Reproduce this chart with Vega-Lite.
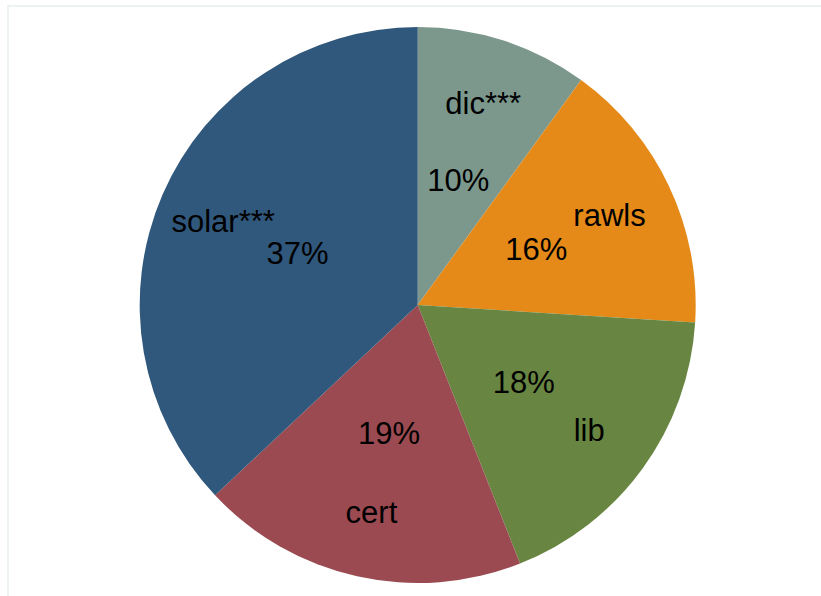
{
  "$schema": "https://vega.github.io/schema/vega-lite/v6.json",
  "autosize": "none",
  "width": 817,
  "height": 594,
  "padding": {"left": 8, "top": 6, "right": -4, "bottom": -4},
  "background": "white",
  "view": {"stroke": "#e8eeee", "strokeWidth": 1.5},
  "data": {
    "values": [
      {"idx": 1, "cat": "dic***", "value": 10, "pct": "10%"},
      {"idx": 2, "cat": "rawls", "value": 16, "pct": "16%"},
      {"idx": 3, "cat": "lib", "value": 18, "pct": "18%"},
      {"idx": 4, "cat": "cert", "value": 19, "pct": "19%"},
      {"idx": 5, "cat": "solar***", "value": 37, "pct": "37%"}
    ]
  },
  "encoding": {
    "theta": {"field": "value", "type": "quantitative", "stack": true},
    "order": {"field": "idx", "type": "quantitative"},
    "color": {
      "field": "cat",
      "type": "nominal",
      "legend": null,
      "scale": {
        "domain": ["dic***", "rawls", "lib", "cert", "solar***"],
        "range": ["#7c988c", "#e58a19", "#688642", "#9a4a50", "#30587c"]
      }
    }
  },
  "layer": [
    {
      "mark": {"type": "arc", "radius": 278, "xOffset": 1.2, "yOffset": 2}
    },
    {
      "mark": {"type": "text", "radius": 212, "xOffset": 1.2, "yOffset": 2, "dy": 2, "font": "Liberation Sans", "fontSize": 31, "fill": "black", "align": "center", "baseline": "middle"},
      "encoding": {"text": {"field": "cat"}, "color": {"value": "black"}}
    },
    {
      "mark": {"type": "text", "radius": 131, "xOffset": 1.2, "yOffset": 2, "dy": 2, "font": "Liberation Sans", "fontSize": 31, "fill": "black", "align": "center", "baseline": "middle"},
      "encoding": {"text": {"field": "pct"}, "color": {"value": "black"}}
    }
  ]
}
